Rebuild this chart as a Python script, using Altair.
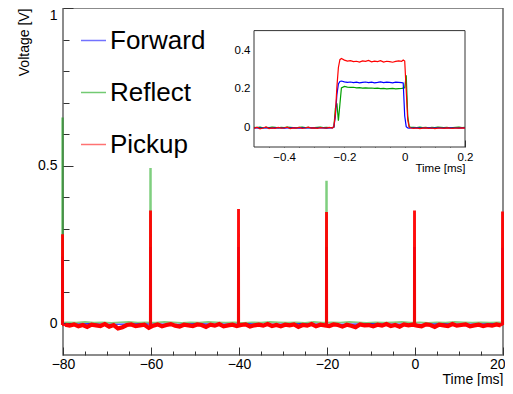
import altair as alt
import numpy as np
import pandas as pd

SERIES = ["Forward", "Reflect", "Pickup"]
COLORS = ["#0000ff", "#00a000", "#ff0000"]

# ---------------- main trace (-80 .. 20 ms) ----------------
PULSE_T = [-80, -60, -40, -20, 0, 20]
RED_PEAK = [0.28, 0.355, 0.36, 0.35, 0.355, 0.352]
GREEN_PEAK = [0.65, 0.49, 0.21, 0.45, 0.21, 0.205]
BLUE_PEAK = [0.21, 0.24, 0.24, 0.24, 0.24, 0.238]
PULSE_SHAPE_DT = [-0.24, -0.21, -0.01, 0.02]  # rise start, top, top end, fall end

RED_BASE_T = list(np.arange(-79.5, 20.0, 1.0))
RED_BASE = [
    -0.004, -0.007, -0.003, -0.009, -0.005, -0.011, -0.004, -0.006, -0.008, -0.002,
    -0.010, -0.005, -0.016, -0.012, -0.005, -0.003, -0.008, -0.006, -0.004, -0.014,
    -0.007, -0.003, -0.009, -0.005, -0.002, -0.007, -0.010, -0.004, -0.006, -0.008,
    -0.003, -0.005, -0.011, -0.004, -0.007, -0.002, -0.009, -0.006, -0.004, -0.008,
    -0.005, -0.003, -0.010, -0.006, -0.004, -0.007, -0.002, -0.008, -0.005, -0.009,
    -0.004, -0.006, -0.003, -0.011, -0.005, -0.007, -0.002, -0.009, -0.004, -0.006,
    -0.008, -0.003, -0.005, -0.010, -0.004, -0.007, -0.012, -0.003, -0.006, -0.005,
    -0.009, -0.004, -0.007, -0.002, -0.008, -0.005, -0.010, -0.003, -0.006, -0.004,
    -0.007, -0.009, -0.003, -0.005, -0.011, -0.004, -0.006, -0.008, -0.002, -0.007,
    -0.005, -0.003, -0.009, -0.006, -0.004, -0.008, -0.005, -0.007, -0.003, -0.006,
]
GREEN_BASE_T = list(np.arange(-79.0, 20.0, 2.0))
GREEN_BASE = [
    0.004, 0.003, 0.005, 0.003, 0.004, 0.002, 0.004, 0.005, 0.003, 0.004,
    0.003, 0.005, 0.004, 0.002, 0.004, 0.003, 0.005, 0.004, 0.003, 0.004,
    0.002, 0.004, 0.003, 0.005, 0.004, 0.003, 0.004, 0.002, 0.005, 0.003,
    0.004, 0.003, 0.005, 0.004, 0.002, 0.004, 0.003, 0.004, 0.005, 0.003,
    0.004, 0.002, 0.004, 0.003, 0.005, 0.004, 0.003, 0.004, 0.003, 0.004,
]
BLUE_BASE_T = list(np.arange(-78.0, 20.0, 4.0))
BLUE_BASE = [
    -0.002, -0.001, -0.003, -0.002, -0.001, -0.002, -0.003, -0.001, -0.002, -0.002,
    -0.001, -0.003, -0.002, -0.001, -0.002, -0.003, -0.002, -0.001, -0.002, -0.002,
    -0.003, -0.001, -0.002, -0.002, -0.001,
]
BASE_LEVEL = {"Forward": -0.002, "Reflect": 0.003, "Pickup": -0.005}

# ---------------- inset trace (-0.5 .. 0.2 ms) ----------------
INSET_T = (
    list(np.round(np.arange(-0.50, -0.235, 0.01), 3))
    + [-0.235, -0.23, -0.225, -0.22, -0.215, -0.21]
    + list(np.round(np.arange(-0.20, -0.005, 0.01), 3))
    + [-0.005, 0.0, 0.005, 0.01, 0.015, 0.02]
    + list(np.round(np.arange(0.03, 0.205, 0.01), 3))
)
INSET_RED = (
    [-0.004, 0.002, -0.006, -0.002, 0.003, -0.005, -0.001, -0.004, 0.001, -0.003,
     -0.002, 0.002, -0.005, -0.001, -0.003, 0.001, -0.004, -0.002, 0.002, -0.003,
     -0.001, -0.004, 0.000, -0.002, -0.003, 0.001, -0.002]
    + [0.005, 0.07, 0.21, 0.31, 0.35, 0.356]
    + [0.348, 0.343, 0.345, 0.340, 0.342, 0.338, 0.344, 0.341, 0.346, 0.339,
       0.343, 0.340, 0.345, 0.338, 0.342, 0.340, 0.337, 0.341, 0.344, 0.342]
    + [0.348, 0.343, 0.19, 0.04, 0.003, -0.002]
    + [-0.004, -0.002, -0.005, -0.003, -0.001, -0.004, -0.002, -0.005, -0.003,
       -0.002, -0.004, -0.001, -0.003, -0.004, -0.002, -0.003, -0.001, -0.003]
)
INSET_BLUE = (
    [-0.002, -0.001, -0.003, -0.002, 0.000, -0.002, -0.003, -0.001, -0.002, -0.002,
     -0.003, -0.001, -0.002, 0.000, -0.002, -0.003, -0.001, -0.002, -0.002, -0.001,
     -0.003, -0.002, -0.001, -0.002, -0.003, -0.002, -0.001]
    + [0.003, 0.06, 0.17, 0.225, 0.238, 0.240]
    + [0.236, 0.233, 0.235, 0.232, 0.234, 0.231, 0.233, 0.235, 0.232, 0.234,
       0.231, 0.233, 0.236, 0.232, 0.234, 0.233, 0.231, 0.234, 0.233, 0.232]
    + [0.230, 0.06, 0.005, -0.002, -0.003, -0.002]
    + [-0.002, -0.001, -0.003, -0.002, -0.002, -0.001, -0.003, -0.002, -0.001,
       -0.002, -0.003, -0.002, -0.001, -0.002, -0.002, -0.003, -0.001, -0.002]
)
INSET_GREEN = (
    [0.001, 0.000, 0.002, -0.001, 0.001, 0.000, 0.002, 0.001, -0.001, 0.001,
     0.000, 0.002, 0.001, 0.000, -0.001, 0.001, 0.002, 0.000, 0.001, -0.001,
     0.000, 0.001, 0.002, 0.000, 0.001, 0.000, 0.001]
    + [0.002, 0.10, 0.125, 0.035, 0.12, 0.205]
    + [0.212, 0.209, 0.207, 0.208, 0.205, 0.206, 0.204, 0.205, 0.203, 0.204,
       0.202, 0.203, 0.201, 0.202, 0.200, 0.201, 0.202, 0.200, 0.201, 0.202]
    + [0.203, 0.205, 0.27, 0.06, 0.004, 0.001]
    + [0.001, 0.000, 0.002, 0.000, 0.001, -0.001, 0.001, 0.000, 0.002, 0.001,
       0.000, 0.001, -0.001, 0.000, 0.001, 0.002, 0.000, 0.001]
)

# ---------------- axis tick values ----------------
MAIN_X_LABELS = [-80, -60, -40, -20, 0, 20]
MAIN_X_MINOR = [v for v in range(-75, 20, 5) if v % 20 != 0]
MAIN_Y_LABELS = [0, 0.5, 1]
MAIN_Y_MINOR = [0.1, 0.2, 0.3, 0.4, 0.6, 0.7, 0.8, 0.9]
INSET_X_LABELS = [-0.4, -0.2, 0, 0.2]
INSET_X_MINOR = [-0.45, -0.35, -0.3, -0.25, -0.15, -0.1, -0.05, 0.05, 0.1, 0.15]
INSET_Y_LABELS = [0, 0.2, 0.4]
INSET_Y_MINOR = [-0.05, 0.05, 0.1, 0.15, 0.25, 0.3, 0.35, 0.45]

# ---------------- build tables ----------------
def build_main(name, bt, bv, peaks):
    lo = BASE_LEVEL[name]
    rows = list(zip(bt, bv))
    for t, p in zip(PULSE_T, peaks):
        vals = [lo, p, p, lo]
        rows += [(t + dt, v) for dt, v in zip(PULSE_SHAPE_DT, vals)]
    rows.sort()
    return pd.DataFrame({"t": [r[0] for r in rows], "v": [r[1] for r in rows], "series": name})

blue_df = build_main("Forward", BLUE_BASE_T, BLUE_BASE, BLUE_PEAK)
green_df = build_main("Reflect", GREEN_BASE_T, GREEN_BASE, GREEN_PEAK)
red_df = build_main("Pickup", RED_BASE_T, RED_BASE, RED_PEAK)
red_band_df = pd.DataFrame({"t": RED_BASE_T, "v": RED_BASE, "series": "Pickup"})

inset_blue = pd.DataFrame({"t": INSET_T, "v": INSET_BLUE, "series": "Forward"})
inset_green = pd.DataFrame({"t": INSET_T, "v": INSET_GREEN, "series": "Reflect"})
inset_red = pd.DataFrame({"t": INSET_T, "v": INSET_RED, "series": "Pickup"})

W, H = 440, 347
FONT = "Liberation Sans"

main_x = alt.Scale(domain=[-80, 20], nice=False, zero=False)
main_y = alt.Scale(domain=[-0.1, 1.0], nice=False, zero=False)
# inset placed inside the plot area through its own scale ranges
IX0, IX1 = 191, 402
IY0, IY1 = 139, 22.6
inset_x = alt.Scale(domain=[-0.5, 0.2], range=[IX0, IX1], nice=False, zero=False)
inset_y = alt.Scale(domain=[-0.1, 0.5], range=[IY0, IY1], nice=False, zero=False)

color = alt.Color(
    "series:N",
    scale=alt.Scale(domain=SERIES, range=COLORS),
    legend=alt.Legend(
        orient="none", legendX=17, legendY=19, title=None,
        labelFontSize=26, labelFont=FONT, labelColor="black",
        symbolType="stroke", symbolSize=625, symbolStrokeWidth=1.5,
        symbolOpacity=0.55, rowPadding=25, labelOffset=3,
    ),
)

main_x_axis = alt.Axis(
    orient="bottom", values=MAIN_X_LABELS, format="d", ticks=False, tickSize=0,
    domain=False, labelPadding=2, labelFontSize=14,
    labelExpr="datum.value == 20 ? '' : datum.label",
    title="Time [ms]", titleAnchor="end", titleAlign="right", titleFontSize=14,
    titleBaseline="alphabetic", titleY=28, titleX=W)
main_y_axis = alt.Axis(
    orient="left", values=MAIN_Y_LABELS, format=".1~f", ticks=False, tickSize=0,
    domain=False, labelPadding=6, labelFontSize=14, labelFlush=True,
    title="Voltage [V]", titleAnchor="end", titleFontSize=14, titlePadding=6)

def main_layer(df, width, opacity, with_axes):
    return alt.Chart(df).mark_line(clip=False, strokeWidth=width, opacity=opacity).encode(
        x=alt.X("t:Q", scale=main_x, axis=main_x_axis if with_axes else None),
        y=alt.Y("v:Q", scale=main_y, axis=main_y_axis if with_axes else None),
        color=color,
    )

main_blue = main_layer(blue_df, 1.3, 0.85, True)
main_green = main_layer(green_df, 1.6, 0.5, False)
main_red_band = main_layer(red_band_df, 4.2, 1.0, False)
main_red = main_layer(red_df, 2.0, 0.95, False)

tick_df = pd.DataFrame({"x": [0.0], "y": [0.0]})

def tick_layer(xs, ys, xvals, yvals, xlen, ylen, xoff, yoff, **xlab):
    xaxis = dict(orient="bottom", values=xvals, labels=False, domain=False, ticks=True,
                 tickSize=xlen, offset=xoff - xlen, tickColor="#333", title=None)
    xaxis.update(xlab)
    return alt.Chart(tick_df).mark_point(opacity=0).encode(
        x=alt.X("x:Q", scale=xs, axis=alt.Axis(**xaxis)),
        y=alt.Y("y:Q", scale=ys, axis=alt.Axis(
            orient="left", values=yvals, labels=False, domain=False, ticks=True,
            tickSize=ylen, offset=yoff - ylen, tickColor="#333", title=None)),
    )

# the major-tick axis also carries the right-most label, flushed inside the page
main_major = tick_layer(
    main_x, main_y, MAIN_X_LABELS, MAIN_Y_LABELS, 8, 10, 0, 0,
    labels=True, labelExpr="datum.value == 20 ? datum.label : ''",
    labelFlush=True, labelFlushOffset=2, labelPadding=2, labelFontSize=14)
main_minor = tick_layer(main_x, main_y, MAIN_X_MINOR, MAIN_Y_MINOR, 4, 6, 0, 0)

frame_df = pd.DataFrame({"x": [-0.5], "x2": [0.2], "y": [-0.1], "y2": [0.5]})
inset_frame = alt.Chart(frame_df).mark_rect(fill="white", stroke="#333", strokeWidth=1).encode(
    x=alt.X("x:Q", scale=inset_x, axis=None),
    x2="x2:Q",
    y=alt.Y("y:Q", scale=inset_y, axis=None),
    y2="y2:Q",
)

IXOFF = IY0 - H   # move inset x axis up to the inset's bottom edge
IYOFF = -IX0      # move inset y axis right to the inset's left edge

inset_x_axis = alt.Axis(
    orient="bottom", values=INSET_X_LABELS, format=".1~f", ticks=False, tickSize=0,
    domain=False, labelPadding=4, labelFontSize=11.5, offset=IXOFF,
    title="Time [ms]", titleAnchor="end", titleFontSize=11.5, titlePadding=0)
inset_y_axis = alt.Axis(
    orient="left", values=INSET_Y_LABELS, format=".1~f", ticks=False, tickSize=0,
    domain=False, labelPadding=4, labelFontSize=11.5, offset=IYOFF, title=None)

def inset_layer(df, with_axes):
    return alt.Chart(df).mark_line(strokeWidth=1.2, clip=False).encode(
        x=alt.X("t:Q", scale=inset_x, axis=inset_x_axis if with_axes else None),
        y=alt.Y("v:Q", scale=inset_y, axis=inset_y_axis if with_axes else None),
        color=color,
    )

inset_g = inset_layer(inset_green, True)
inset_b = inset_layer(inset_blue, False)
inset_r = inset_layer(inset_red, False)

inset_major = tick_layer(inset_x, inset_y, INSET_X_LABELS, INSET_Y_LABELS, 7, 7, IXOFF, IYOFF)
inset_minor = tick_layer(inset_x, inset_y, INSET_X_MINOR, INSET_Y_MINOR, 4, 4, IXOFF, IYOFF)

chart = alt.layer(
    main_blue, main_green, main_red_band, main_red, main_major, main_minor,
    inset_frame, inset_g, inset_b, inset_r, inset_major, inset_minor
).resolve_scale(
    x="independent", y="independent"
).resolve_axis(
    x="independent", y="independent"
).properties(
    width=W, height=H,
    autosize=alt.AutoSizeParams(type="none"),
    padding={"left": 55, "top": 0, "right": 2, "bottom": 31},
    background="white",
).configure_view(
    stroke="#666", strokeWidth=1.5
).configure_axis(
    labelFont=FONT, titleFont=FONT, labelColor="black", titleColor="black",
    titleFontWeight="normal", grid=False, labelFlush=False, labelOverlap=False,
)

chart.save("out.html", embed_options={"renderer": "svg", "actions": False})
